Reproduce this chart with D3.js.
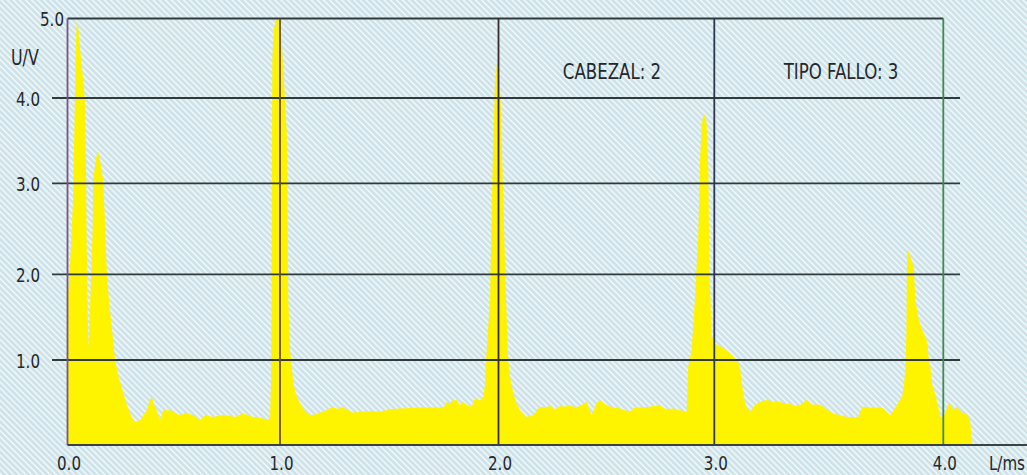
<!DOCTYPE html>
<html><head><meta charset="utf-8">
<script src="https://cdn.jsdelivr.net/npm/d3@7"></script>
<style>html,body{margin:0;padding:0;background:#cfe4ea;overflow:hidden}</style>
</head><body><svg id="c" width="1027" height="475"></svg>
<script>
// ---- data ----
const waveform = [
[0.000,1.70],[0.012,2.10],[0.026,2.82],[0.033,3.74],[0.038,4.48],[0.043,4.96],[0.052,4.86],[0.064,4.48],[0.074,4.23],[0.082,3.98],[0.087,3.19],[0.090,2.45],[0.094,1.70],[0.098,1.14],[0.104,1.47],[0.113,2.14],[0.118,2.49],[0.121,3.04],[0.134,3.30],[0.145,3.37],[0.153,3.27],[0.168,3.04],[0.176,2.60],[0.184,2.08],[0.195,1.70],[0.208,1.39],[0.224,1.00],[0.242,0.79],[0.263,0.61],[0.280,0.47],[0.302,0.33],[0.318,0.27],[0.341,0.29],[0.373,0.41],[0.388,0.53],[0.396,0.57],[0.407,0.48],[0.420,0.41],[0.435,0.29],[0.451,0.41],[0.482,0.41],[0.529,0.35],[0.558,0.38],[0.592,0.35],[0.624,0.29],[0.647,0.35],[0.686,0.33],[0.718,0.35],[0.749,0.35],[0.788,0.33],[0.827,0.37],[0.849,0.35],[0.874,0.33],[0.906,0.32],[0.937,0.30],[0.953,0.31],[0.958,0.76],[0.960,1.70],[0.962,3.39],[0.964,4.48],[0.970,4.86],[0.985,5.00],[0.995,4.99],
[1.008,4.73],[1.018,4.23],[1.023,3.98],[1.031,3.59],[1.034,2.82],[1.038,1.70],[1.046,1.12],[1.061,0.73],[1.073,0.59],[1.092,0.49],[1.114,0.40],[1.137,0.35],[1.160,0.36],[1.183,0.38],[1.211,0.41],[1.244,0.45],[1.265,0.42],[1.279,0.45],[1.305,0.42],[1.335,0.38],[1.366,0.39],[1.412,0.40],[1.458,0.39],[1.503,0.42],[1.549,0.43],[1.641,0.44],[1.748,0.44],[1.763,0.51],[1.778,0.48],[1.787,0.52],[1.809,0.53],[1.824,0.47],[1.838,0.51],[1.861,0.46],[1.878,0.45],[1.888,0.53],[1.901,0.55],[1.916,0.52],[1.930,0.57],[1.938,0.71],[1.943,1.00],[1.961,1.70],[1.973,3.19],[1.984,4.19],[1.995,4.50],
[2.002,4.35],[2.010,3.98],[2.022,2.82],[2.035,1.70],[2.045,1.00],[2.056,0.76],[2.069,0.61],[2.081,0.51],[2.100,0.41],[2.131,0.33],[2.161,0.35],[2.178,0.41],[2.192,0.45],[2.215,0.44],[2.239,0.46],[2.262,0.42],[2.285,0.46],[2.308,0.45],[2.331,0.47],[2.354,0.44],[2.378,0.46],[2.409,0.51],[2.432,0.35],[2.452,0.48],[2.470,0.53],[2.494,0.48],[2.517,0.45],[2.563,0.43],[2.586,0.41],[2.609,0.39],[2.632,0.44],[2.656,0.44],[2.702,0.45],[2.748,0.47],[2.776,0.42],[2.810,0.43],[2.841,0.41],[2.872,0.39],[2.879,0.92],[2.895,1.12],[2.910,1.70],[2.926,2.45],[2.934,3.27],[2.941,3.68],[2.949,3.79],[2.957,3.81],[2.964,3.72],[2.972,3.19],[2.977,2.08],[2.988,1.27],
[3.003,1.19],[3.025,1.16],[3.051,1.12],[3.083,1.04],[3.103,0.98],[3.112,0.92],[3.120,0.73],[3.130,0.55],[3.141,0.45],[3.156,0.39],[3.178,0.47],[3.200,0.51],[3.229,0.53],[3.256,0.51],[3.287,0.51],[3.309,0.48],[3.331,0.49],[3.352,0.46],[3.374,0.47],[3.403,0.53],[3.432,0.47],[3.453,0.48],[3.476,0.45],[3.497,0.41],[3.520,0.37],[3.549,0.35],[3.579,0.33],[3.628,0.33],[3.646,0.45],[3.681,0.44],[3.725,0.44],[3.739,0.43],[3.754,0.39],[3.768,0.35],[3.783,0.41],[3.798,0.47],[3.820,0.57],[3.828,0.71],[3.834,0.88],[3.839,1.35],[3.841,2.05],[3.843,2.27],[3.850,2.25],[3.856,2.19],[3.871,2.08],[3.878,1.70],[3.893,1.47],[3.908,1.35],[3.922,1.27],[3.930,1.21],[3.937,1.00],[3.944,0.91],[3.952,0.71],[3.966,0.59],[3.988,0.33],[3.997,0.33],
[4.007,0.37],[4.021,0.47],[4.029,0.49],[4.044,0.41],[4.059,0.45],[4.073,0.41],[4.087,0.37],[4.103,0.36],[4.116,0.31],[4.124,0.10],[4.128,0.00]
];
const xTicks = [0, 1, 2, 3, 4];
const yTicks = [1, 2, 3, 4, 5];
const xTickLabels = ["0.0", "1.0", "2.0", "3.0", "4.0"];
const yTickLabels = ["1.0", "2.0", "3.0", "4.0", "5.0"];
const annotations = ["CABEZAL: 2", "TIPO FALLO: 3"];
const xTitle = "L/ms";
const yTitle = "U/V";

// ---- layout ----
const W = 1027, H = 475;
const FONT = "'DejaVu Sans Condensed','DejaVu Sans',sans-serif";
const TXT = "#24282c";
const SQ = 0.84; // horizontal squeeze to mimic the narrow print face
const svg = d3.select("#c");
const defs = svg.append("defs");
const pat = defs.append("pattern").attr("id", "hatch").attr("patternUnits", "userSpaceOnUse")
  .attr("width", 4.3).attr("height", 4.3).attr("patternTransform", "rotate(-45)");
pat.append("rect").attr("width", 4.3).attr("height", 4.3).attr("fill", "#cde2e9");
pat.append("rect").attr("width", 1.7).attr("height", 4.3).attr("fill", "#eef6f7");
svg.append("rect").attr("width", W).attr("height", H).attr("fill", "url(#hatch)");

// scanned chart grid is slightly uneven, so piecewise linear scales
const x = d3.scaleLinear().domain(xTicks).range([67.5, 280, 498.5, 714.3, 943.3]);
const y = d3.scaleLinear().domain([0, 1, 2, 3, 4, 5]).range([445, 360, 274.3, 183.3, 98, 18.5]);

// area
const area = d3.area().x(d => x(d[0])).y0(y(0)).y1(d => y(d[1]));
svg.append("path").datum(waveform).attr("d", area).attr("fill", "#fff400");

// horizontal grid lines
const gridCol = "#2e3a3c";
svg.append("g").selectAll("line").data(yTicks.filter(v => v < 5)).join("line")
  .attr("x1", 52).attr("x2", 960)
  .attr("y1", d => y(d)).attr("y2", d => y(d))
  .attr("stroke", gridCol).attr("stroke-width", 1.8);
// top border
svg.append("line").attr("x1", x(0)).attr("x2", x(4)).attr("y1", y(5)).attr("y2", y(5))
  .attr("stroke", gridCol).attr("stroke-width", 1.8);
// vertical grid lines (print misregistration tints)
const vCols = ["#7a5486", "#6a4a2e", "#3a2c2c", "#2c3552", "#3f8a52"];
svg.append("g").selectAll("line").data(xTicks).join("line")
  .attr("x1", d => x(d)).attr("x2", d => x(d))
  .attr("y1", y(5)).attr("y2", y(0))
  .attr("stroke", (d, i) => vCols[i]).attr("stroke-width", 1.8);
// bottom axis line
svg.append("line").attr("x1", x(0)).attr("x2", W).attr("y1", y(0)).attr("y2", y(0))
  .attr("stroke", "#3a4244").attr("stroke-width", 2);

function label(g, px, py, str, size, anchor) {
  g.append("g").attr("transform", `translate(${px},${py}) scale(${SQ},1)`)
    .append("text").attr("text-anchor", anchor)
    .attr("font-family", FONT).attr("font-size", size).attr("fill", TXT).text(str);
}

// x tick labels
const gx = svg.append("g");
xTicks.forEach((d, i) => label(gx, x(d) + 1.5, 470, xTickLabels[i], 20, "middle"));

// y tick labels
const gy = svg.append("g");
yTicks.forEach((d, i) => label(gy, d === 5 ? 64 : 40, y(d) + 7.5, yTickLabels[i], 20, "end"));

// titles
label(svg, 11, 65, yTitle, 21, "start");
label(svg, 1025, 470, xTitle, 20, "end");

// annotations
annotations.forEach((a, i) => label(svg, i === 0 ? 612 : 841, 79, a, 22, "middle"));
</script></body></html>
